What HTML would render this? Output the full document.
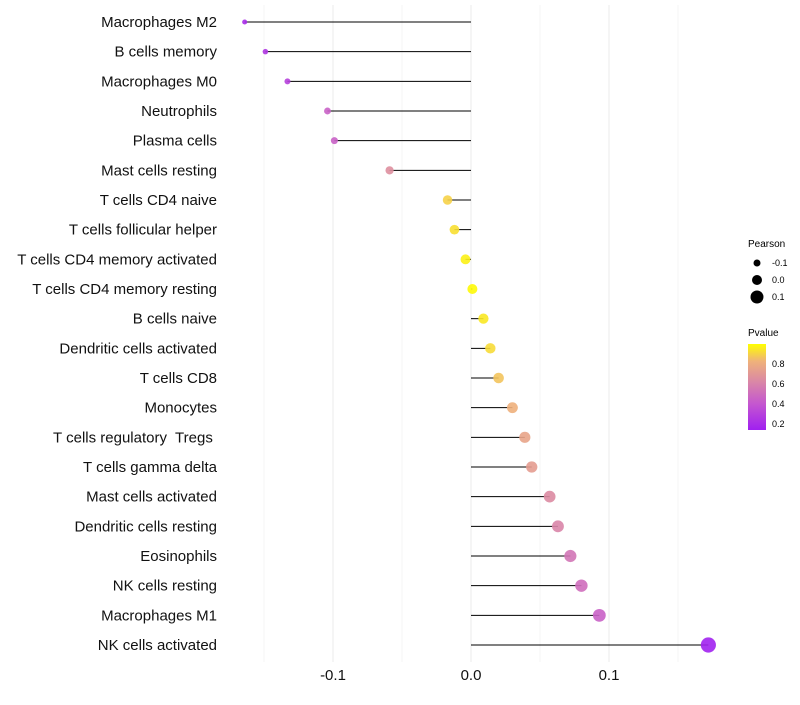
<!DOCTYPE html>
<html><head><meta charset="utf-8"><style>
body{margin:0;background:#fff;font-family:"Liberation Sans",sans-serif}
#labels text{white-space:pre}
</style></head><body>
<svg id="chart" width="800" height="700" xmlns="http://www.w3.org/2000/svg" font-family="Liberation Sans, sans-serif">
<defs>
<linearGradient id="pgrad" x1="0" y1="1" x2="0" y2="0">
<stop offset="0" stop-color="#a020f0"/><stop offset="0.3" stop-color="#c456d0"/><stop offset="0.55" stop-color="#d985a8"/><stop offset="0.8" stop-color="#efb27a"/><stop offset="1" stop-color="#ffff00"/>
</linearGradient>
</defs>
<g id="grid"></g><g id="marks"></g><g id="labels"></g>
<g font-size="9">
<text x="748" y="247" font-size="10">Pearson</text>
<circle cx="757" cy="263" r="3.5" fill="#000"/><text x="772" y="266">-0.1</text>
<circle cx="757" cy="280" r="5" fill="#000"/><text x="772" y="283">0.0</text>
<circle cx="757" cy="297" r="6.5" fill="#000"/><text x="772" y="300">0.1</text>
</g>
<g font-size="9">
<text x="748" y="336" font-size="10">Pvalue</text>
<rect x="748" y="344" width="18" height="86" fill="url(#pgrad)"/>
<text x="772" y="367">0.8</text><text x="772" y="387">0.6</text><text x="772" y="407">0.4</text><text x="772" y="427">0.2</text>
</g>
</svg>
<script>
const categories=["Macrophages M2","B cells memory","Macrophages M0","Neutrophils","Plasma cells","Mast cells resting","T cells CD4 naive","T cells follicular helper","T cells CD4 memory activated","T cells CD4 memory resting","B cells naive","Dendritic cells activated","T cells CD8","Monocytes","T cells regulatory  Tregs ","T cells gamma delta","Mast cells activated","Dendritic cells resting","Eosinophils","NK cells resting","Macrophages M1","NK cells activated"];
const pearson=[-0.164,-0.149,-0.133,-0.104,-0.099,-0.059,-0.017,-0.012,-0.004,0.001,0.009,0.014,0.020,0.030,0.039,0.044,0.057,0.063,0.072,0.080,0.093,0.172];
const pvalue=[0.2,0.25,0.3,0.45,0.45,0.65,0.9,0.93,0.97,0.99,0.95,0.92,0.87,0.82,0.76,0.72,0.63,0.6,0.53,0.5,0.45,0.15];
const xTicks=[-0.1,0,0.1];
const xTickLabels=["-0.1","0.0","0.1"];
const minorTicks=[-0.15,-0.05,0.05,0.15];
const NS="http://www.w3.org/2000/svg";
const x=v=>471+v*1380;
const y=i=>22+i*(623/21);
const rad=v=>5+v*15;
const stops=[[0.14,[160,32,240]],[0.4,[196,86,208]],[0.6,[217,133,168]],[0.83,[239,178,122]],[1,[255,255,0]]];
function col(p){if(p<=stops[0][0])return`rgb(${stops[0][1]})`;for(let k=1;k<stops.length;k++){if(p<=stops[k][0]){const t=(p-stops[k-1][0])/(stops[k][0]-stops[k-1][0]);const c=stops[k-1][1].map((a,j)=>Math.round(a+(stops[k][1][j]-a)*t));return`rgb(${c})`;}}return"rgb(255,255,0)";}
function mk(tag,attrs,parent){const e=document.createElementNS(NS,tag);for(const k in attrs)e.setAttribute(k,attrs[k]);parent.appendChild(e);return e;}
const grid=document.getElementById('grid'),marks=document.getElementById('marks'),labels=document.getElementById('labels');
minorTicks.forEach(t=>{const l=mk('line',{x1:x(t),x2:x(t),y1:5,y2:662,stroke:'#f0f0f0','stroke-width':0.6},grid);

});
xTicks.forEach((t,i)=>{const l=mk('line',{x1:x(t),x2:x(t),y1:5,y2:662,stroke:'#ebebeb','stroke-width':1},grid);


const tx=mk('text',{x:x(t),y:680,'text-anchor':'middle','font-size':15,fill:'#111'},labels);tx.textContent=xTickLabels[i];

});
categories.forEach((c,i)=>{
const t=mk('text',{x:217,y:y(i)+5,'text-anchor':'end','font-size':15,fill:'#111'},labels);t.textContent=c;


const s=mk('line',{x1:x(0),x2:x(pearson[i]),y1:y(i),y2:y(i),stroke:'#000','stroke-width':1},marks);


const p=mk('circle',{cx:x(pearson[i]),cy:y(i),r:rad(pearson[i]),fill:col(pvalue[i]),'fill-opacity':0.9},marks);


});
</script>
</body></html>
